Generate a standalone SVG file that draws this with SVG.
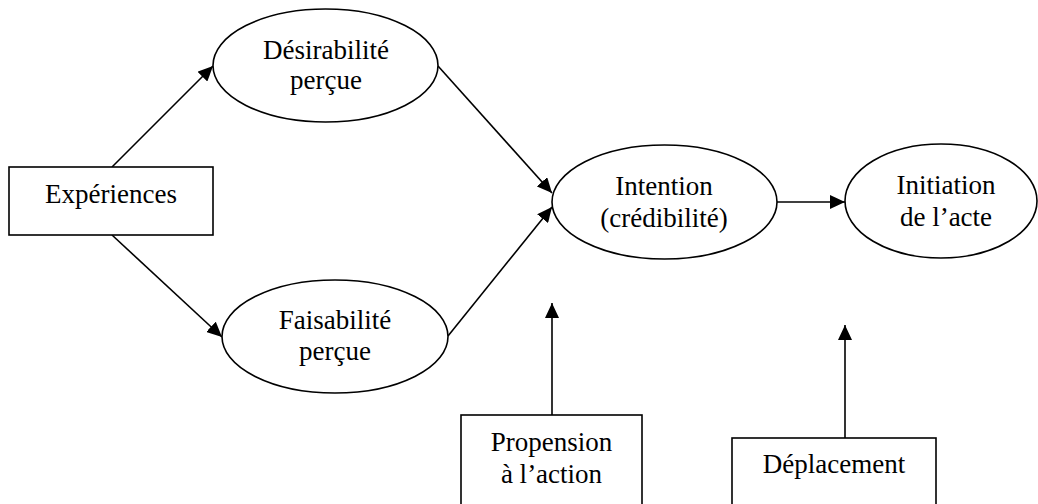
<svg xmlns="http://www.w3.org/2000/svg" width="1038" height="504" viewBox="0 0 1038 504">
<style>
.n{fill:#fff;stroke:#000;stroke-width:1.6}
.t{font-family:"Liberation Serif","Times New Roman",serif;font-size:27px;fill:#000;text-anchor:middle}
.c{stroke:#000;stroke-width:1.6;fill:none}
</style>
<defs>
<marker id="ah" markerUnits="userSpaceOnUse" markerWidth="16" markerHeight="14" refX="15" refY="7" orient="auto">
<path d="M0,0 L15,7 L0,14 Z" fill="#000"/>
</marker>
</defs>
<rect width="1038" height="504" fill="#fff"/>
<g id="connectors">
<line class="c" x1="112" y1="167" x2="213" y2="66" marker-end="url(#ah)"/>
<line class="c" x1="112" y1="235" x2="222" y2="337" marker-end="url(#ah)"/>
<line class="c" x1="438" y1="66" x2="552" y2="193" marker-end="url(#ah)"/>
<line class="c" x1="448" y1="336" x2="552" y2="207" marker-end="url(#ah)"/>
<line class="c" x1="777" y1="202" x2="845" y2="202" marker-end="url(#ah)"/>
<line class="c" x1="552" y1="415" x2="552" y2="303" marker-end="url(#ah)"/>
<line class="c" x1="845" y1="438" x2="845" y2="325" marker-end="url(#ah)"/>
</g>
<g id="experiences">
<rect class="n" x="9" y="167" width="204" height="68"/>
<text class="t" x="111" y="203">Expériences</text>
</g>
<g id="desirabilite">
<ellipse class="n" cx="325.5" cy="65.5" rx="112.5" ry="56.5"/>
<text class="t" x="326" y="59">Désirabilité</text>
<text class="t" x="326" y="89">perçue</text>
</g>
<g id="faisabilite">
<ellipse class="n" cx="335" cy="336.5" rx="113" ry="56.5"/>
<text class="t" x="335" y="329">Faisabilité</text>
<text class="t" x="335" y="360">perçue</text>
</g>
<g id="intention">
<ellipse class="n" cx="664.5" cy="202" rx="112.5" ry="57"/>
<text class="t" x="664" y="195">Intention</text>
<text class="t" x="664" y="227">(crédibilité)</text>
</g>
<g id="initiation">
<ellipse class="n" cx="941" cy="201" rx="96" ry="57"/>
<text class="t" x="946" y="194">Initiation</text>
<text class="t" x="946" y="226">de l’acte</text>
</g>
<g id="propension">
<rect class="n" x="461" y="415" width="181" height="110"/>
<text class="t" x="551.5" y="451">Propension</text>
<text class="t" x="551.5" y="483">à l’action</text>
</g>
<g id="deplacement">
<rect class="n" x="732" y="438" width="204" height="90"/>
<text class="t" x="834" y="473">Déplacement</text>
</g>
</svg>
